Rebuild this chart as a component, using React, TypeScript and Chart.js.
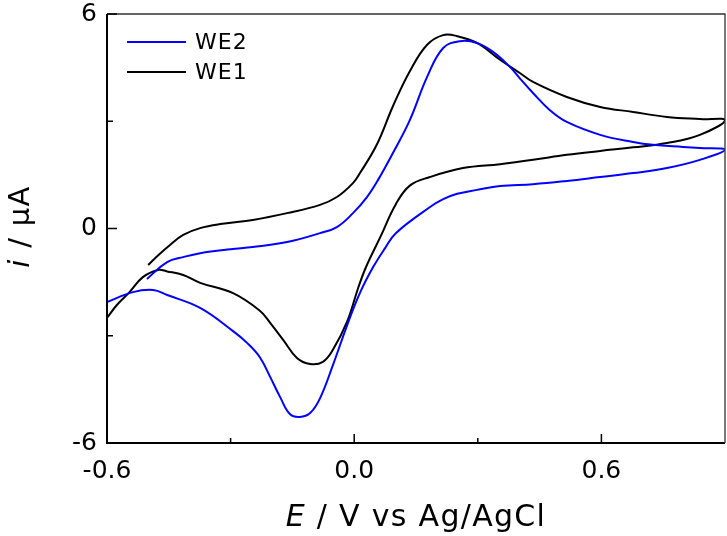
import React, { useEffect, useRef } from "react";
import { Chart, registerables } from "chart.js";

Chart.register(...registerables);

// ---- Axis ticks ----
const xTickValues = [-0.6, 0, 0.6];
const xTickLabels = ["-0.6", "0.0", "0.6"];
const xMinorTicks = [-0.3, 0.3];
const yTickValues = [-6, 0, 6];
const yTickLabels = ["-6", "0", "6"];
const yMinorTicks = [-3, 3];

// ---- Series (E in V, I in µA) ----
const seriesNames = ["WE2", "WE1"];
const seriesColors = ["#0000ff", "#000000"];

const we1ForwardE = [-0.5, -0.475, -0.447, -0.415, -0.374, -0.32, -0.246, -0.163, -0.083, -0.042, -0.003, 0.014, 0.055, 0.094, 0.135, 0.177, 0.216, 0.25, 0.298, 0.354, 0.402, 0.434, 0.516, 0.597, 0.677, 0.759, 0.839, 0.9];
const we1ForwardI = [-1.02, -0.74, -0.46, -0.18, 0.01, 0.13, 0.24, 0.43, 0.66, 0.88, 1.27, 1.55, 2.35, 3.42, 4.4, 5.14, 5.41, 5.38, 5.19, 4.72, 4.35, 4.1, 3.68, 3.4, 3.26, 3.12, 3.06, 3.03];
const we1ReverseE = [0.839, 0.759, 0.677, 0.597, 0.516, 0.434, 0.354, 0.264, 0.184, 0.135, 0.101, 0.063, 0.029, 0.01, -0.017, -0.051, -0.076, -0.107, -0.139, -0.172, -0.204, -0.229, -0.294, -0.374, -0.415, -0.454, -0.476, -0.513, -0.547, -0.576, -0.6];
const we1ReverseI = [2.62, 2.39, 2.27, 2.17, 2.06, 1.92, 1.8, 1.69, 1.44, 1.2, 0.68, -0.25, -1.07, -1.65, -2.6, -3.38, -3.73, -3.79, -3.62, -3.12, -2.64, -2.3, -1.81, -1.52, -1.3, -1.2, -1.16, -1.36, -1.8, -2.14, -2.5];

const we2ForwardE = [-0.503, -0.454, -0.415, -0.374, -0.3, -0.246, -0.163, -0.083, -0.042, -0.003, 0.031, 0.058, 0.094, 0.135, 0.177, 0.216, 0.257, 0.298, 0.337, 0.378, 0.402, 0.434, 0.475, 0.516, 0.597, 0.677, 0.725, 0.798, 0.839, 0.9];
const we2ForwardI = [-1.41, -0.94, -0.8, -0.69, -0.58, -0.52, -0.38, -0.13, 0.04, 0.43, 0.88, 1.36, 2.11, 3.03, 4.24, 5.05, 5.24, 5.19, 4.94, 4.52, 4.2, 3.79, 3.31, 2.98, 2.62, 2.42, 2.34, 2.28, 2.25, 2.2];
const we2ReverseE = [0.839, 0.759, 0.677, 0.597, 0.516, 0.434, 0.354, 0.298, 0.25, 0.216, 0.184, 0.101, 0.075, 0.046, 0.014, -0.017, -0.051, -0.083, -0.107, -0.132, -0.156, -0.18, -0.204, -0.229, -0.26, -0.294, -0.374, -0.454, -0.488, -0.537, -0.6];
const we2ReverseI = [1.92, 1.69, 1.55, 1.44, 1.33, 1.24, 1.19, 1.08, 0.97, 0.82, 0.6, -0.13, -0.55, -1.08, -1.8, -2.7, -3.8, -4.75, -5.16, -5.27, -5.19, -4.71, -4.15, -3.6, -3.2, -2.87, -2.22, -1.86, -1.72, -1.78, -2.06];

const FONT = "'DejaVu Sans', sans-serif";

function toPoints(es: number[], is: number[]) {
  return es.map((e, i) => ({ x: e, y: is[i] }));
}

function labelFor(v: number, values: number[], labels: string[]) {
  const idx = values.findIndex((t) => Math.abs(t - v) < 1e-6);
  return idx >= 0 ? labels[idx] : "";
}

function drawParts(ctx: CanvasRenderingContext2D, parts: { t: string; it: boolean }[], size: number, cx: number, baseY: number) {
  let total = 0;
  const widths = parts.map((p) => {
    ctx.font = `${p.it ? "italic " : ""}${size}px ${FONT}`;
    const w = ctx.measureText(p.t).width;
    total += w;
    return w;
  });
  let x = cx - total / 2;
  ctx.textAlign = "left";
  ctx.textBaseline = "alphabetic";
  parts.forEach((p, i) => {
    ctx.font = `${p.it ? "italic " : ""}${size}px ${FONT}`;
    ctx.fillText(p.t, x, baseY);
    x += widths[i];
  });
}

const decorPlugin = {
  id: "decor",
  afterDatasetsDraw(chart: any) {
    const { ctx, chartArea: a, scales } = chart;
    const xs = scales.x;
    const ys = scales.y;
    ctx.save();
    ctx.strokeStyle = "#000";
    ctx.lineWidth = 2;
    ctx.beginPath();
    ctx.moveTo(a.left, a.top);
    ctx.lineTo(a.left, a.bottom);
    ctx.lineTo(a.right, a.bottom);
    ctx.stroke();
    ctx.strokeStyle = "#333";
    ctx.lineWidth = 1.3;
    ctx.beginPath();
    ctx.moveTo(a.left, a.top);
    ctx.lineTo(a.right, a.top);
    ctx.lineTo(a.right, a.bottom);
    ctx.stroke();
    ctx.strokeStyle = "#000";
    ctx.lineWidth = 1.5;
    const seg = (x0: number, y0: number, x1: number, y1: number) => {
      ctx.beginPath();
      ctx.moveTo(x0, y0);
      ctx.lineTo(x1, y1);
      ctx.stroke();
    };
    xTickValues.forEach((v) => {
      const px = xs.getPixelForValue(v);
      seg(px, a.bottom, px, a.bottom - 9);
    });
    xMinorTicks.forEach((v) => {
      const px = xs.getPixelForValue(v);
      seg(px, a.bottom, px, a.bottom - 5);
    });
    yTickValues.forEach((v) => {
      const py = ys.getPixelForValue(v);
      seg(a.left, py, a.left + 10, py);
    });
    yMinorTicks.forEach((v) => {
      const py = ys.getPixelForValue(v);
      seg(a.left, py, a.left + 6, py);
    });
    ctx.restore();
  },
  afterDraw(chart: any) {
    const { ctx, chartArea: a } = chart;
    ctx.save();
    ctx.fillStyle = "#000";
    (ctx as any).letterSpacing = "1.3px";
    drawParts(ctx, [{ t: "E", it: true }, { t: " / V vs Ag/AgCl", it: false }], 30, (a.left + a.right) / 2, 526);
    ctx.save();
    ctx.translate(29, (a.top + a.bottom) / 2 - 2);
    ctx.rotate(-Math.PI / 2);
    drawParts(ctx, [{ t: "i", it: true }, { t: " / µA", it: false }], 29, 0, 0);
    ctx.restore();
    (ctx as any).letterSpacing = "1px";
    chart.data.datasets.forEach((ds: any, i: number) => {
      const ly = a.top + 28 + i * 30;
      const lx = a.left + 20;
      ctx.strokeStyle = ds.borderColor;
      ctx.lineWidth = 2;
      ctx.beginPath();
      ctx.moveTo(lx, ly);
      ctx.lineTo(lx + 59, ly);
      ctx.stroke();
      ctx.font = `22px ${FONT}`;
      ctx.textAlign = "left";
      ctx.textBaseline = "middle";
      ctx.fillText(ds.label, lx + 68, ly + 1);
    });
    ctx.restore();
  },
};

export default function App() {
  const ref = useRef<HTMLCanvasElement | null>(null);

  useEffect(() => {
    document.body.style.margin = "0";
    if (!ref.current) return;
    const chart = new Chart(ref.current, {
      type: "scatter",
      data: {
        datasets: [
          {
            label: seriesNames[0],
            data: [...toPoints(we2ForwardE, we2ForwardI), ...toPoints(we2ReverseE, we2ReverseI)],
            borderColor: seriesColors[0],
            backgroundColor: seriesColors[0],
            borderWidth: 2,
            showLine: true,
            pointRadius: 0,
            tension: 0.4,
          },
          {
            label: seriesNames[1],
            data: [...toPoints(we1ForwardE, we1ForwardI), ...toPoints(we1ReverseE, we1ReverseI)],
            borderColor: seriesColors[1],
            backgroundColor: seriesColors[1],
            borderWidth: 2,
            showLine: true,
            pointRadius: 0,
            tension: 0.4,
          },
        ],
      },
      options: {
        animation: false,
        responsive: true,
        maintainAspectRatio: false,
        layout: { padding: { left: 0, top: 14, right: 2, bottom: 0 } },
        plugins: { legend: { display: false }, tooltip: { enabled: false } },
        scales: {
          x: {
            type: "linear",
            min: -0.6,
            max: 0.9,
            afterFit: (s: any) => {
              s.height = 93;
              s.paddingLeft = 0;
              s.paddingRight = 0;
            },
            grid: { display: false, drawTicks: false },
            border: { display: false },
            ticks: {
              stepSize: 0.3,
              autoSkip: false,
              maxRotation: 0,
              padding: 16,
              color: "#000",
              font: { family: FONT, size: 25, lineHeight: 1 },
              callback: (v: any) => labelFor(Number(v), xTickValues, xTickLabels),
            },
          },
          y: {
            type: "linear",
            min: -6,
            max: 6,
            afterFit: (s: any) => {
              s.width = 107;
              s.paddingTop = 0;
              s.paddingBottom = 0;
            },
            grid: { display: false, drawTicks: false },
            border: { display: false },
            ticks: {
              stepSize: 3,
              autoSkip: false,
              padding: 10,
              color: "#000",
              font: { family: FONT, size: 25, lineHeight: 1 },
              callback: (v: any) => labelFor(Number(v), yTickValues, yTickLabels),
            },
          },
        },
      },
      plugins: [decorPlugin],
    });
    return () => chart.destroy();
  }, []);

  return (
    <div style={{ width: 727, height: 536, position: "relative" }}>
      <canvas ref={ref} />
    </div>
  );
}
